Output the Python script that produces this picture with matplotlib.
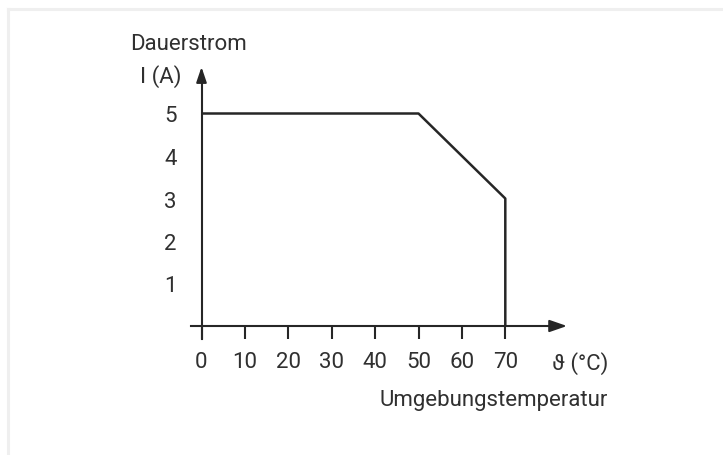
import matplotlib.pyplot as plt
from matplotlib.lines import Line2D

plt.rcParams['font.family'] = ['Roboto', 'DejaVu Sans']

# Daten: Derating-Kurve
temp = [0, 50, 70, 70]
strom = [5, 5, 3, 0]
x_ticks = [0, 10, 20, 30, 40, 50, 60, 70]
y_ticks = [1, 2, 3, 4, 5]

W, H = 723, 456
fig = plt.figure(figsize=(W / 100, H / 100), dpi=100)
ax = fig.add_axes([0, 0, 1, 1])
ax.patch.set_alpha(0)

# Pixel -> Daten: x=0 bei px 201, x=70 bei px 505; y=0 bei py 327, y=5 bei py 114.5
x0, y0 = 201.5, 327
sx = (505.3 - x0) / 70
sy = (y0 - 114.5) / 5
ax.set_xlim(-x0 / sx, (W - x0) / sx)
ax.set_ylim(-(H - y0) / sy, y0 / sy)

col = '#262626'
txt = '#303030'
ax.plot(temp, strom, color=col, lw=1.8, solid_capstyle='butt')

for s in ['top', 'right']:
    ax.spines[s].set_visible(False)
ax.spines['bottom'].set_position(('data', 0))
ax.spines['left'].set_position(('data', 0))
ax.spines['bottom'].set_bounds(-11 / sx, (558 - x0) / sx)
ax.spines['left'].set_bounds(-13 / sy, (y0 - 76) / sy)
for s in ['bottom', 'left']:
    ax.spines[s].set_color(col)
    ax.spines[s].set_linewidth(1.5)

# Pfeilspitzen
ax.annotate('', xy=((567 - x0) / sx, 0), xytext=((555 - x0) / sx, 0),
            arrowprops=dict(arrowstyle='-|>,head_length=0.75,head_width=0.26',
                            color=col, lw=1.5, mutation_scale=14,
                            shrinkA=0, shrinkB=0))
ax.annotate('', xy=(0, (y0 - 68) / sy), xytext=(0, (y0 - 80) / sy),
            arrowprops=dict(arrowstyle='-|>,head_length=0.65,head_width=0.22',
                            color=col, lw=1.5, mutation_scale=14,
                            shrinkA=0, shrinkB=0))

ax.set_xticks(x_ticks)
ax.set_xticklabels([str(v) for v in x_ticks])
ax.set_yticks(y_ticks)
ax.set_yticklabels([str(v) for v in y_ticks])
ax.tick_params(axis='x', direction='out', length=9, width=1.5, color=col,
               labelsize=16, pad=9, labelcolor=txt)
ax.tick_params(axis='y', length=0, labelsize=16, pad=18, labelcolor=txt)

fig.text(189 / W, 1 - 45 / H, 'Dauerstrom', ha='center', va='center',
         fontsize=16, color=txt)
fig.text(182 / W, 1 - 77 / H, 'I (A)', ha='right', va='center',
         fontsize=16, color=txt)
fig.text(552 / W, 1 - 364 / H, 'ϑ (°C)', ha='left', va='center',
         fontsize=16, color=txt)
fig.text(608 / W, 1 - 401 / H, 'Umgebungstemperatur', ha='right',
         va='center', fontsize=16, color=txt)

# heller Rahmen
fig.add_artist(Line2D([8 / W, 1], [1 - 9.5 / H, 1 - 9.5 / H],
                      color='#efefef', lw=2.2))
fig.add_artist(Line2D([8 / W, 8 / W], [0, 1 - 9.5 / H],
                      color='#efefef', lw=2.2))

fig.savefig('out.png', dpi=100)
